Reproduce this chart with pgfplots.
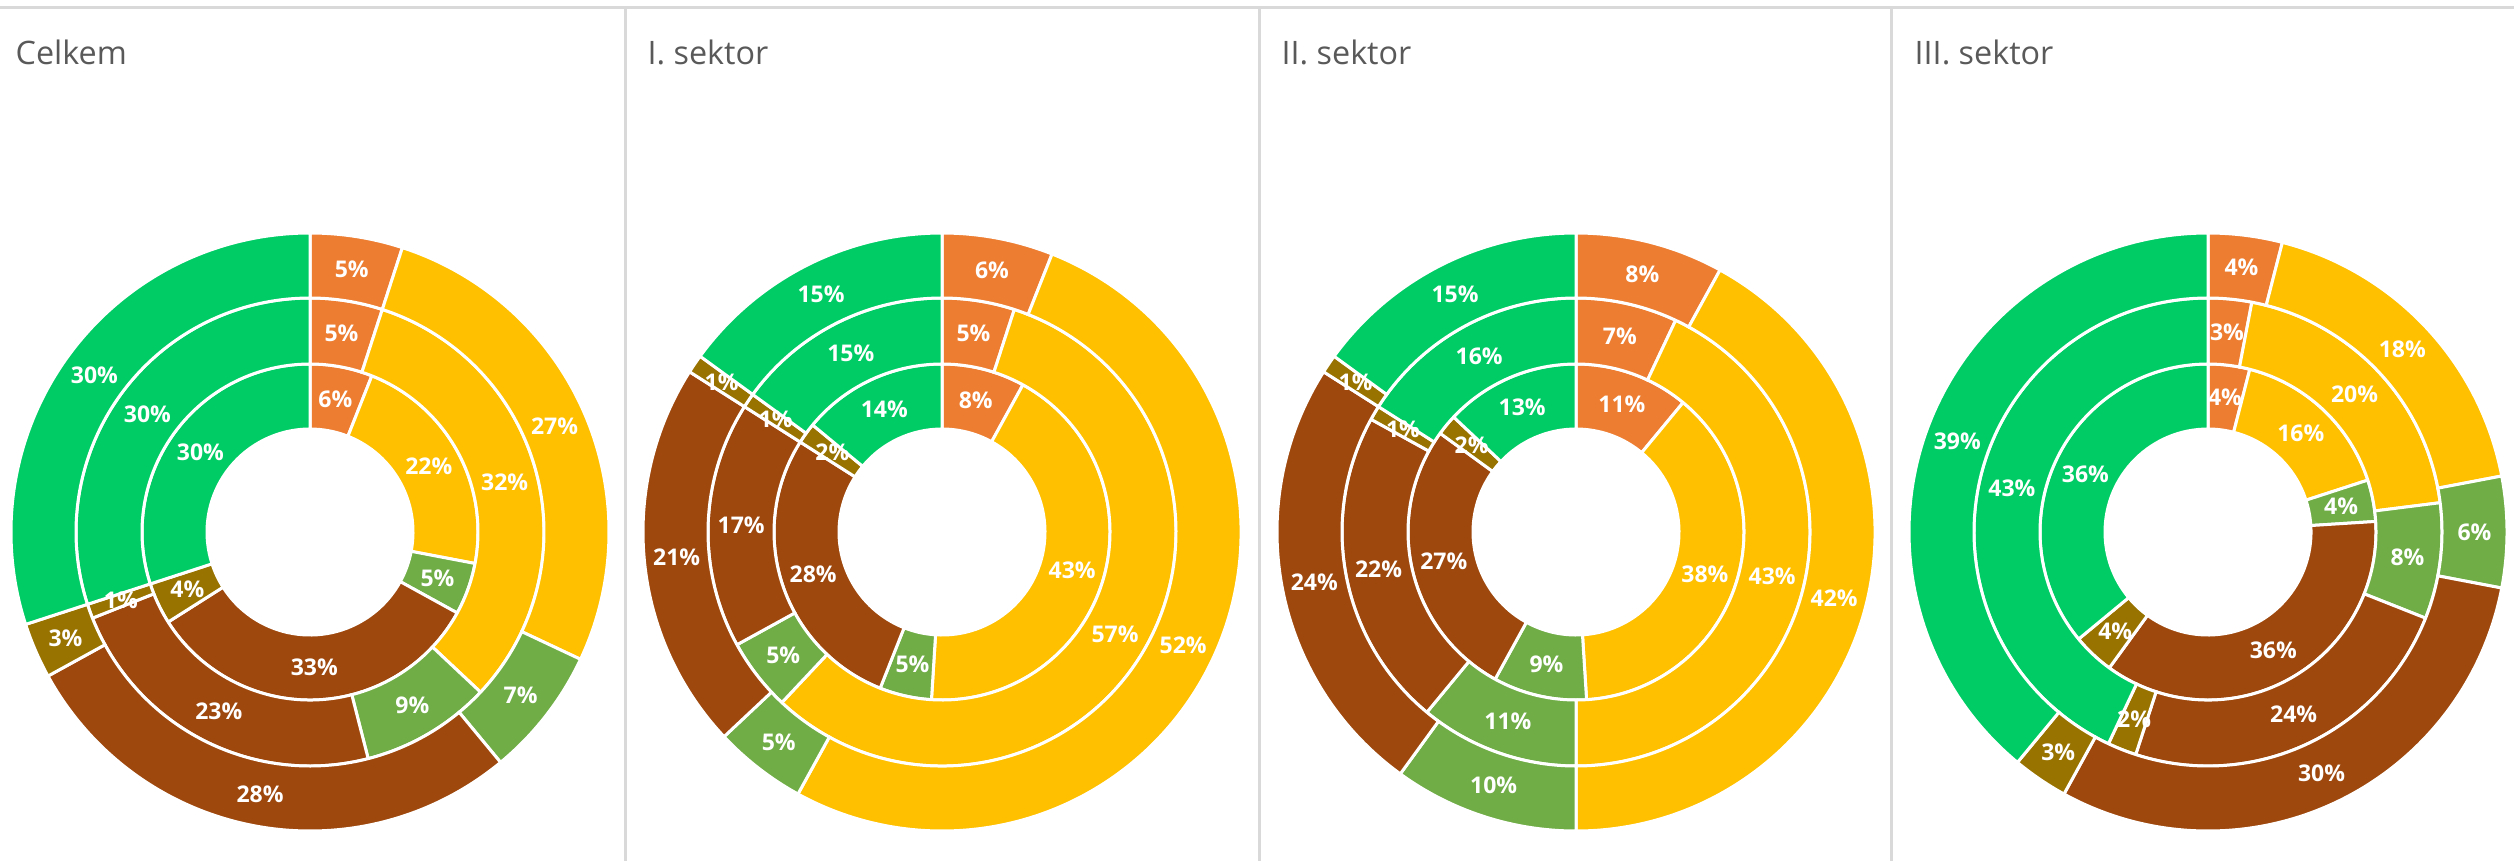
\documentclass[border=0pt]{standalone}
\usepackage{pgfplots}
\pgfplotsset{compat=1.18}
\usepackage{pgfplotstable}
\usepackage{fontspec}
\setmainfont{Open Sans}
\definecolor{cOr}{HTML}{ED7D31}
\definecolor{cYe}{HTML}{FFC000}
\definecolor{cLg}{HTML}{70AD47}
\definecolor{cBr}{HTML}{9E480E}
\definecolor{cOl}{HTML}{997300}
\definecolor{cGr}{HTML}{00CC66}
\definecolor{sep}{HTML}{D9D9D9}
\definecolor{ttl}{HTML}{595959}

% columns: i = inner ring, m = middle ring, o = outer ring; rows clockwise from 12 o'clock
\pgfplotstableread{
i m o
6 5 5
22 32 27
5 9 7
33 23 28
4 1 3
30 30 30
}\tCelkem
\pgfplotstableread{
i m o
8 5 6
43 57 52
5 5 5
28 17 21
2 1 1
14 15 15
}\tPrvni
\pgfplotstableread{
i m o
11 7 8
38 43 42
9 11 10
27 22 24
2 1 1
13 16 15
}\tDruhy
\pgfplotstableread{
i m o
4 3 4
16 20 18
4 8 6
36 24 30
4 2 3
36 43 39
}\tTreti

\newcommand\donut[3]{%
 \foreach \col/\rin/\rout in {i/103/168,m/168/234,o/234/299}{%
  \xdef\curang{90}%
  \foreach \row/\clr in {0/cOr,1/cYe,2/cLg,3/cBr,4/cOl,5/cGr}{%
   \pgfplotstablegetelem{\row}{\col}\of{#1}%
   \pgfmathsetmacro\dval{\pgfplotsretval}%
   \pgfmathsetmacro\aa{\curang}%
   \pgfmathsetmacro\bb{\curang-3.6*\dval}%
   \fill[\clr,draw=white,line width=0.9pt,line join=miter]
     (axis cs:{#2+\rout*cos(\aa)},{#3+\rout*sin(\aa)})
     arc[start angle=\aa,end angle=\bb,radius=\rout*0.3pt]
     -- (axis cs:{#2+\rin*cos(\bb)},{#3+\rin*sin(\bb)})
     arc[start angle=\bb,end angle=\aa,radius=\rin*0.3pt] -- cycle;
   \xdef\curang{\bb}%
  }%
 }%
 \foreach \col/\rin/\rout in {i/103/168,m/168/234,o/234/299}{%
  \xdef\curang{90}%
  \foreach \row in {0,...,5}{%
   \pgfplotstablegetelem{\row}{\col}\of{#1}%
   \edef\lbl{\pgfplotsretval}%
   \pgfmathsetmacro\aa{\curang}%
   \pgfmathsetmacro\bb{\curang-3.6*\lbl}%
   \pgfmathsetmacro\mm{(\aa+\bb)/2}%
   \pgfmathsetmacro\rm{(\rin+\rout)/2}%
   \node[text=white,font=\bfseries\fontsize{6.9}{8}\selectfont,inner sep=0pt]
     at (axis cs:{#2+\rm*cos(\mm)},{#3+\rm*sin(\mm)}) {\lbl\%};
   \xdef\curang{\bb}%
  }%
 }%
}

\begin{document}
\begin{tikzpicture}
\begin{axis}[
  width=754.2pt, height=258.3pt, scale only axis,
  xmin=0, xmax=2514, ymin=0, ymax=861,
  hide axis, clip=true,
]
\addplot[draw=none] coordinates {(0,0) (2514,861)};
\draw[sep, line width=0.9pt] (axis cs:0,853) -- (axis cs:2514,853);
\draw[sep, line width=0.9pt] (axis cs:625,853) -- (axis cs:625,0);
\draw[sep, line width=0.9pt] (axis cs:1259,853) -- (axis cs:1259,0);
\draw[sep, line width=0.9pt] (axis cs:1891,853) -- (axis cs:1891,0);
\pgfplotsextra{%
  \donut{\tCelkem}{310}{329}%
  \donut{\tPrvni}{942}{329}%
  \donut{\tDruhy}{1576}{329}%
  \donut{\tTreti}{2208}{329}%
}
\node[anchor=base west, text=ttl, font=\fontsize{9.7}{11}\selectfont, inner sep=0pt] at (axis cs:15,796) {Celkem};
\node[anchor=base west, text=ttl, font=\fontsize{9.7}{11}\selectfont, inner sep=0pt] at (axis cs:647,796) {I. sektor};
\node[anchor=base west, text=ttl, font=\fontsize{9.7}{11}\selectfont, inner sep=0pt] at (axis cs:1281,796) {II. sektor};
\node[anchor=base west, text=ttl, font=\fontsize{9.7}{11}\selectfont, inner sep=0pt] at (axis cs:1914,796) {III. sektor};
\end{axis}
\end{tikzpicture}
\end{document}
